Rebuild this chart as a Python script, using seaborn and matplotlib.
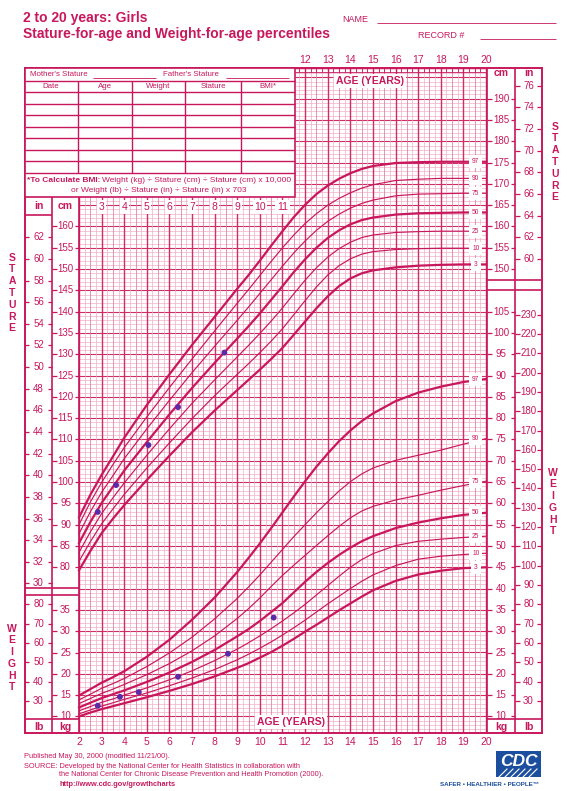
import matplotlib

matplotlib.use('Agg')
import matplotlib.pyplot as plt
import numpy as np
import pandas as pd
import seaborn as sns
from matplotlib.patches import Rectangle

# values
ages = [2, 2.5, 3, 3.5, 4, 5, 6, 7, 8, 9, 9.5, 10, 10.5, 11, 11.5, 12, 12.5, 13, 13.5, 14, 14.5, 15,
        16, 17, 18, 19, 20]
percentiles = [3, 10, 25, 50, 75, 90, 97]

stature_p3 = [79.3, 83.8, 88.0, 91.4, 94.6, 100.5, 106.2, 111.7, 116.8, 121.6, 124.0, 126.4, 128.9, 131.5,
              134.6, 137.7, 140.8, 143.6, 146.0, 147.8, 149.0, 149.7, 150.4, 150.8, 151.0, 151.1, 151.1]
stature_p10 = [81.4, 86.0, 90.2, 93.7, 97.1, 103.3, 109.2, 114.9, 120.3, 125.3, 127.8, 130.4, 133.1, 136.0,
               139.3, 142.6, 145.8, 148.6, 150.8, 152.4, 153.5, 154.1, 154.6, 154.8, 154.9, 154.9, 154.9]
stature_p25 = [83.5, 88.3, 92.6, 96.3, 99.8, 106.3, 112.5, 118.5, 124.0, 129.4, 132.1, 134.9, 137.8, 140.9,
               144.2, 147.4, 150.3, 152.8, 154.8, 156.3, 157.4, 158.0, 158.6, 158.8, 158.9, 158.9, 158.9]
stature_p50 = [85.7, 90.6, 95.1, 98.9, 102.7, 109.4, 115.9, 122.1, 128.0, 133.7, 136.6, 139.6, 142.8, 146.0,
               149.3, 152.3, 155.0, 157.3, 159.1, 160.5, 161.5, 162.1, 162.8, 163.1, 163.2, 163.3, 163.3]
stature_p75 = [87.9, 93.0, 97.6, 101.5, 105.5, 112.5, 119.2, 125.7, 131.9, 138.0, 141.1, 144.3, 147.5, 150.7,
               153.8, 156.6, 159.1, 161.2, 162.9, 164.3, 165.4, 166.2, 167.2, 167.6, 167.7, 167.8, 167.8]
stature_p90 = [90.0, 95.3, 99.9, 104.1, 108.1, 115.3, 122.2, 128.9, 135.5, 142.0, 145.2, 148.5, 151.8, 155.0,
               158.0, 160.7, 163.0, 165.0, 166.6, 167.9, 169.0, 169.8, 170.8, 171.1, 171.3, 171.3, 171.3]
stature_p97 = [91.7, 97.0, 101.7, 106.0, 110.4, 118.1, 125.3, 132.2, 138.8, 145.4, 148.6, 152.0, 155.5, 158.9,
               162.2, 165.1, 167.6, 169.6, 171.2, 172.5, 173.5, 174.2, 174.9, 175.1, 175.2, 175.2, 175.2]

weight_p3 = [10.0, 10.9, 11.7, 12.4, 13.1, 14.5, 16.0, 17.6, 19.4, 21.4, 22.5, 23.8, 25.1, 26.6,
             28.2, 29.9, 31.5, 33.2, 34.9, 36.5, 38.1, 39.6, 41.8, 43.3, 44.2, 44.8, 45.0]
weight_p10 = [10.6, 11.5, 12.4, 13.2, 14.0, 15.5, 17.2, 19.0, 21.0, 23.3, 24.6, 26.0, 27.5, 29.1,
              30.8, 32.6, 34.5, 36.4, 38.2, 40.0, 41.7, 43.2, 45.4, 46.9, 47.6, 48.0, 48.3]
weight_p25 = [11.3, 12.3, 13.3, 14.1, 15.0, 16.7, 18.6, 20.7, 23.1, 25.8, 27.3, 28.9, 30.6, 32.4,
              34.3, 36.3, 38.5, 40.7, 42.9, 45.0, 46.8, 48.2, 50.1, 51.1, 51.6, 52.0, 52.3]
weight_p50 = [12.1, 13.2, 14.3, 15.2, 16.1, 18.1, 20.3, 22.8, 25.6, 28.8, 30.5, 32.4, 34.5, 36.6,
              39.1, 41.6, 43.9, 46.0, 47.9, 49.6, 51.1, 52.3, 54.2, 55.5, 56.5, 57.3, 57.8]
weight_p75 = [13.0, 14.2, 15.4, 16.4, 17.5, 19.8, 22.4, 25.4, 28.9, 33.0, 35.3, 37.8, 40.5, 43.1,
              45.5, 47.8, 50.1, 52.4, 54.6, 56.6, 58.2, 59.3, 60.8, 61.9, 63.1, 64.2, 65.2]
weight_p90 = [13.9, 15.2, 16.6, 17.7, 18.9, 21.7, 24.9, 28.6, 32.9, 37.7, 40.4, 43.2, 46.2, 49.2,
              52.2, 55.0, 57.8, 60.4, 62.9, 65.1, 66.9, 68.3, 70.1, 71.3, 72.5, 73.9, 75.2]
weight_p97 = [14.9, 16.4, 17.9, 19.2, 20.6, 24.0, 28.0, 32.7, 37.9, 43.9, 47.2, 50.6, 54.2, 57.9,
              61.6, 65.2, 68.6, 71.7, 74.6, 77.1, 79.3, 81.1, 84.0, 86.0, 87.4, 88.5, 89.2]

visit_ages_stature = [2.83, 3.64, 5.07, 6.38, 8.43]
visit_stature = [93.0, 99.3, 108.7, 117.6, 130.4]
visit_ages_weight = [2.83, 3.81, 4.64, 6.38, 8.59, 10.61]
visit_weight = [12.5, 14.6, 15.7, 19.3, 24.7, 33.2]

bottom_age_ticks = list(range(2, 21))
top_age_ticks = list(range(12, 21))
inner_age_ticks = list(range(3, 12))
cm_left_ticks = list(range(80, 161, 5))
in_left_ticks = list(range(30, 63, 2))
kg_left_ticks = list(range(10, 36, 5))
lb_left_ticks = list(range(30, 81, 10))
cm_right_ticks = list(range(150, 191, 5))
in_right_ticks = list(range(60, 77, 2))
kg_right_ticks = list(range(10, 106, 5))
lb_right_ticks = list(range(30, 231, 10))

MAG = '#C8175C'
GRID_MINOR = '#F2AFC6'
GRID_MID = '#E07A9E'
GRID_MAJOR = '#CE2D65'
DOT = '#5B2AA8'
CDC_BLUE = '#1B4E9E'

plt.rcParams['font.family'] = ['Liberation Sans', 'DejaVu Sans']

W, H = 567, 791
fig = plt.figure(figsize=(W / 100, H / 100), dpi=100)


def age_at(px):
    return 2 + (px - 79) / 22.61


def cm_at(py):
    return 80 + (567.3 - py) / 4.26


KG_SHIFT = 35  # weight kg sits 35 units below stature cm on the shared grid

rect = [25 / W, 1 - 733 / H, 517 / W, 665 / H]
ax = fig.add_axes(rect, label='stature')
ax_w = fig.add_axes(rect, label='weight')
xlim = (age_at(25), age_at(542))
ylim = (cm_at(733), cm_at(68))

# grid
table_cm = cm_at(197)
table_age = age_at(295)
rows = np.arange(int(np.ceil(ylim[0])), int(ylim[1]) + 1)
for step, color, lw in [(1, GRID_MINOR, 0.5), (5, GRID_MAJOR, 0.8)]:
    sel = rows[rows % step == 0] if step > 1 else rows[rows % 5 != 0]
    starts = np.where(sel <= table_cm, 2, table_age)
    ax.hlines(sel, starts, 20, color=color, lw=lw, zorder=1)

cols = np.arange(2, 20.001, 0.25)
for kind, color, lw in [('q', GRID_MINOR, 0.5), ('h', GRID_MID, 0.55), ('y', GRID_MAJOR, 1.0)]:
    if kind == 'y':
        sel = cols[cols % 1 == 0]
    elif kind == 'h':
        sel = cols[cols % 1 == 0.5]
    else:
        sel = cols[(cols * 4) % 2 == 1]
    tops = np.where(sel >= table_age, ylim[1], table_cm)
    ax.vlines(sel, ylim[0], tops, color=color, lw=lw, zorder=1)

# top ruler with quarter-year ticks
ruler = cols[cols >= table_age]
ax.vlines(ruler, cm_at(72), ylim[1], color=MAG, lw=0.6, zorder=2)
ax.hlines(cm_at(72), table_age, 20, color=MAG, lw=0.6, zorder=2)

# percentile curves
stature = pd.DataFrame({'age': ages, 3: stature_p3, 10: stature_p10, 25: stature_p25, 50: stature_p50,
                        75: stature_p75, 90: stature_p90, 97: stature_p97})
weight = pd.DataFrame({'age': ages, 3: weight_p3, 10: weight_p10, 25: weight_p25, 50: weight_p50,
                       75: weight_p75, 90: weight_p90, 97: weight_p97})

for table, axis in [(stature, ax), (weight, ax_w)]:
    for p in percentiles:
        lw = 1.6 if p in (3, 50, 97) else 0.85
        sns.lineplot(x=table['age'], y=table[p], ax=axis, color=MAG, linewidth=lw, zorder=3)
        axis.text(19.55, table[p].iloc[-1], str(p), ha='center', va='center', fontsize=4.8, color=MAG,
                  zorder=4, bbox=dict(boxstyle='square,pad=0.45', fc='white', ec='none'))

sns.scatterplot(x=visit_ages_stature, y=visit_stature, ax=ax, color=DOT, s=18, edgecolor='none', zorder=6)
sns.scatterplot(x=visit_ages_weight, y=visit_weight, ax=ax_w, color=DOT, s=18, edgecolor='none', zorder=6)


# measurement columns
def column(axis, labels, positions, px_left, px_right):
    xl, xr = age_at(px_left), age_at(px_right)
    tick = 4.5 / 22.61
    axis.hlines(positions, xl, xl + tick, color=MAG, lw=0.9, zorder=2)
    axis.hlines(positions, xr - tick, xr, color=MAG, lw=0.9, zorder=2)
    for lab, pos in zip(labels, positions):
        axis.text((xl + xr) / 2, pos, str(lab), ha='center', va='center', fontsize=7, color=MAG)


column(ax, cm_left_ticks, cm_left_ticks, 52, 79)
column(ax, in_left_ticks, [v * 2.54 for v in in_left_ticks], 25, 52)
column(ax, cm_right_ticks, cm_right_ticks, 487, 515)
column(ax, in_right_ticks, [v * 2.54 for v in in_right_ticks], 515, 542)
column(ax_w, kg_left_ticks, kg_left_ticks, 52, 79)
column(ax_w, lb_left_ticks, [v / 2.20462 for v in lb_left_ticks], 25, 52)
column(ax_w, kg_right_ticks, kg_right_ticks, 487, 515)
column(ax_w, lb_right_ticks, [v / 2.20462 for v in lb_right_ticks], 515, 542)

for a in inner_age_ticks:
    ax.text(a, cm_at(207), str(a), ha='center', va='center', fontsize=7.5, color=MAG, zorder=4,
            bbox=dict(boxstyle='square,pad=0.15', fc='white', ec='none'))

ax.set_xlim(xlim)
ax.set_ylim(ylim)
ax_w.set_xlim(xlim)
ax_w.set_ylim(ylim[0] - KG_SHIFT, ylim[1] - KG_SHIFT)
ax_w.axis('off')
ax.set_xlabel('')
ax.set_ylabel('')
ax.set_yticks([])
ax.set_xticks(bottom_age_ticks)
ax.tick_params(axis='x', length=0, pad=3, labelsize=7.5, labelcolor=MAG)
for s in ax.spines.values():
    s.set_color(MAG)
    s.set_linewidth(1.4)
top = ax.secondary_xaxis('top')
top.set_xticks(top_age_ticks)
top.tick_params(length=0, pad=2.5, labelsize=7.5, labelcolor=MAG)
top.spines['top'].set_visible(False)

# page furniture in pixel coordinates
ov = fig.add_axes([0, 0, 1, 1], label='page')
ov.set_xlim(0, W)
ov.set_ylim(H, 0)
ov.axis('off')


def seg(x0, y0, x1, y1, lw=1.2):
    ov.plot([x0, x1], [y0, y1], color=MAG, lw=lw, solid_capstyle='butt')


seg(52, 197, 52, 733)
seg(79, 197, 79, 733)
seg(487, 68, 487, 733)
seg(515, 68, 515, 733)
seg(25, 588, 79, 588)
seg(25, 595, 79, 595)
seg(487, 280, 542, 280)
seg(487, 290, 542, 290)
seg(25, 719, 79, 719)
seg(487, 719, 542, 719)
seg(25, 215, 52, 215)

# record table
ov.add_patch(Rectangle((25, 68), 270, 129, fc='white', ec=MAG, lw=1.2, zorder=0))
for y in [80.5, 92, 103.5, 115, 126.5, 138, 149.5, 161, 172.5]:
    seg(25, y, 295, y, lw=1.0)
for x in [78, 131.5, 185, 241]:
    seg(x, 80.5, x, 172.5, lw=1.0)
ov.text(30, 74.5, "Mother's Stature", fontsize=5.7, color=MAG, va='center')
seg(93, 77.5, 156, 77.5, lw=0.6)
ov.text(163, 74.5, "Father's Stature", fontsize=5.7, color=MAG, va='center')
seg(226, 77.5, 289, 77.5, lw=0.6)
for x, lab in [(51, 'Date'), (105, 'Age'), (158, 'Weight'), (213, 'Stature'), (268, 'BMI*')]:
    ov.text(x, 86.5, lab, fontsize=5.7, color=MAG, ha='center', va='center')

bmi_bold = ov.text(27, 180, '*To Calculate BMI:', fontsize=6.0, color=MAG, weight='bold', va='center')
fig.canvas.draw()
bb = bmi_bold.get_window_extent()
x_end = ov.transData.inverted().transform((bb.x1, bb.y0))[0]
ov.text(x_end + 1.5, 180, 'Weight (kg) ÷ Stature (cm) ÷ Stature (cm) x 10,000', fontsize=6.0, color=MAG,
        va='center')
ov.text(159, 190, 'or Weight (lb) ÷ Stature (in) ÷ Stature (in) x 703', fontsize=6.0, color=MAG,
        ha='center', va='center')

# headings
ov.text(23, 18, '2 to 20 years: Girls', fontsize=10, weight='bold', color=MAG, va='center')
ov.text(23, 34, 'Stature-for-age and Weight-for-age percentiles', fontsize=10, weight='bold', color=MAG,
        va='center')
ov.text(342, 19, 'NAME', fontsize=6.5, color=MAG, va='center')
seg(377, 23, 556, 23, lw=0.6)
ov.text(418, 35, 'RECORD #', fontsize=6.5, color=MAG, va='center')
seg(480, 39, 556, 39, lw=0.6)

box = dict(boxstyle='square,pad=0.2', fc='white', ec='none')
ov.text(370, 81, 'AGE (YEARS)', fontsize=7.5, weight='bold', color=MAG, ha='center', va='center', bbox=box)
ov.text(291, 722, 'AGE (YEARS)', fontsize=7.5, weight='bold', color=MAG, ha='center', va='center', bbox=box)

for x, y, lab in [(38.5, 206, 'in'), (65.5, 206, 'cm'), (501, 73, 'cm'), (528.5, 73, 'in'),
                  (38.5, 727, 'lb'), (65.5, 727, 'kg'), (501, 727, 'kg'), (528.5, 727, 'lb')]:
    ov.text(x, y, lab, fontsize=7.5, weight='bold', color=MAG, ha='center', va='center')

for x, y, word in [(12, 293, 'STATURE'), (12, 658, 'WEIGHT'), (555, 162, 'STATURE'), (553, 502, 'WEIGHT')]:
    ov.text(x, y, '\n'.join(word), fontsize=7.5, weight='bold', color=MAG, ha='center', va='center',
            linespacing=1.22)

# footer
ov.text(24, 756, 'Published May 30, 2000 (modified 11/21/00).', fontsize=5.3, color=MAG, va='center')
ov.text(24, 766, 'SOURCE: Developed by the National Center for Health Statistics in collaboration with',
        fontsize=5.3, color=MAG, va='center')
ov.text(59, 775, 'the National Center for Chronic Disease Prevention and Health Promotion (2000).',
        fontsize=5.3, color=MAG, va='center')
ov.text(59, 784, 'http://www.cdc.gov/growthcharts', fontsize=5.3, weight='bold', color=MAG, va='center')

ov.add_patch(Rectangle((496, 751), 45, 26, fc=CDC_BLUE, ec='none'))
for i in range(6):
    ov.plot([499 + i * 6, 507 + i * 6], [777, 769], color='white', lw=0.8)
ov.text(518.5, 761, 'CDC', fontsize=12.5, weight='bold', style='italic', color='white', ha='center',
        va='center')
ov.text(490, 784, 'SAFER • HEALTHIER • PEOPLE™', fontsize=4.5, weight='bold', color=CDC_BLUE, ha='center',
        va='center')

fig.savefig('out.png', dpi=100)
